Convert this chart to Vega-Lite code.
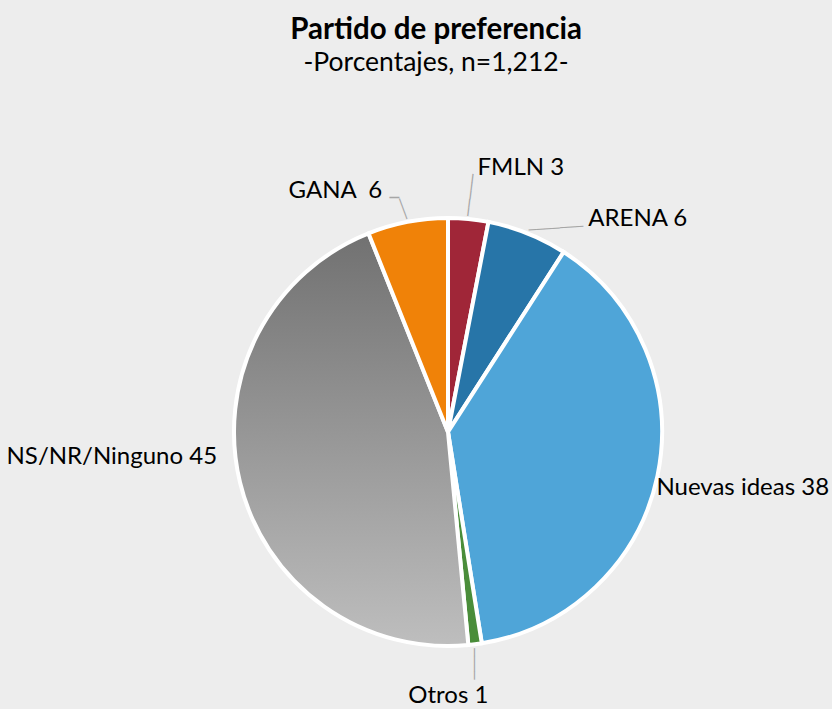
{
  "$schema": "https://vega.github.io/schema/vega-lite/v6.json",
  "width": 768,
  "height": 554,
  "autosize": "none",
  "padding": {"left": 64, "top": 155, "right": 0, "bottom": 0},
  "background": "#ededed",
  "config": {"view": {"stroke": null}},
  "title": {
    "text": "Partido de preferencia",
    "subtitle": "-Porcentajes, n=1,212-",
    "anchor": "middle",
    "dx": -12,
    "offset": 78,
    "font": "Lato",
    "fontSize": 29.5,
    "fontWeight": "bold",
    "color": "#000000",
    "subtitleFont": "Lato",
    "subtitleFontSize": 26.5,
    "subtitleColor": "#000000",
    "subtitlePadding": 4
  },
  "data": {
    "values": [
      {"partido": "FMLN", "pct": 3, "orden": 1, "etiqueta": "FMLN 3"},
      {"partido": "ARENA", "pct": 6, "orden": 2, "etiqueta": "ARENA 6"},
      {"partido": "Nuevas ideas", "pct": 38, "orden": 3, "etiqueta": "Nuevas ideas 38"},
      {"partido": "Otros", "pct": 1, "orden": 4, "etiqueta": "Otros 1"},
      {"partido": "NS/NR/Ninguno", "pct": 45, "orden": 5, "etiqueta": "NS/NR/Ninguno 45"},
      {"partido": "GANA", "pct": 6, "orden": 6, "etiqueta": "GANA\u00a0 6"}
    ]
  },
  "encoding": {
    "theta": {"field": "pct", "type": "quantitative", "stack": true},
    "order": {"field": "orden", "type": "quantitative"},
    "detail": {"field": "partido", "type": "nominal"}
  },
  "layer": [
    {
      "mark": {"type": "arc", "outerRadius": 214, "stroke": "#ffffff", "strokeWidth": 4},
      "encoding": {
        "fill": {
          "condition": {
            "test": "datum.partido === 'NS/NR/Ninguno'",
            "value": {"gradient": "linear", "x1": 0, "y1": 0, "x2": 0, "y2": 1,
              "stops": [{"offset": 0, "color": "#717171"}, {"offset": 1, "color": "#bebebe"}]}
          },
          "field": "partido",
          "type": "nominal",
          "scale": {
            "domain": ["FMLN", "ARENA", "Nuevas ideas", "Otros", "NS/NR/Ninguno", "GANA"],
            "range": ["#a02638", "#2775a8", "#4fa5d8", "#4a8d3a", "#999999", "#f08208"]
          },
          "legend": null
        }
      }
    },
    {
      "mark": {"type": "text", "radius": 217, "font": "DejaVu Sans Mono", "fontSize": 14, "fill": "#a6a6a6", "align": "left", "baseline": "middle", "angle": -83},
      "encoding": {"text": {"condition": {"test": "datum.partido === 'FMLN'", "value": "─────"}, "value": ""}}
    },
    {
      "mark": {"type": "text", "radius": 217, "font": "DejaVu Sans Mono", "fontSize": 13, "fill": "#a6a6a6", "align": "left", "baseline": "middle", "angle": -4},
      "encoding": {"text": {"condition": {"test": "datum.partido === 'ARENA'", "value": "───────"}, "value": ""}}
    },
    {
      "mark": {"type": "text", "radius": 218, "font": "DejaVu Sans Mono", "fontSize": 13, "fill": "#a6a6a6", "align": "left", "baseline": "middle", "angle": 90, "dy": 2},
      "encoding": {"text": {"condition": {"test": "datum.partido === 'Otros'", "value": "────"}, "value": ""}}
    },
    {
      "mark": {"type": "text", "radius": 217, "font": "DejaVu Sans Mono", "fontSize": 12, "fill": "#a6a6a6", "align": "left", "baseline": "middle", "angle": -110},
      "encoding": {"text": {"condition": {"test": "datum.partido === 'GANA'", "value": "───"}, "value": ""}}
    },
    {
      "mark": {"type": "text", "radius": 216, "font": "DejaVu Sans Mono", "fontSize": 16, "fill": "#a6a6a6", "align": "right", "baseline": "middle", "dx": -8, "dy": -22},
      "encoding": {"text": {"condition": {"test": "datum.partido === 'GANA'", "value": "─"}, "value": ""}}
    },
    {
      "mark": {"type": "text", "radius": 216, "font": "Lato", "fontSize": 24, "fill": "#000000", "align": "left", "baseline": "alphabetic", "dx": 9, "dy": -42},
      "encoding": {"text": {"condition": {"test": "datum.partido === 'FMLN'", "field": "etiqueta", "type": "nominal"}, "value": ""}}
    },
    {
      "mark": {"type": "text", "radius": 216, "font": "Lato", "fontSize": 24, "fill": "#000000", "align": "left", "baseline": "alphabetic", "dx": 60, "dy": -5},
      "encoding": {"text": {"condition": {"test": "datum.partido === 'ARENA'", "field": "etiqueta", "type": "nominal"}, "value": ""}}
    },
    {
      "mark": {"type": "text", "radius": 216, "font": "Lato", "fontSize": 24, "fill": "#000000", "align": "left", "baseline": "alphabetic", "dx": -3, "dy": 19},
      "encoding": {"text": {"condition": {"test": "datum.partido === 'Nuevas ideas'", "field": "etiqueta", "type": "nominal"}, "value": ""}}
    },
    {
      "mark": {"type": "text", "radius": 216, "font": "Lato", "fontSize": 24, "fill": "#000000", "align": "center", "baseline": "alphabetic", "dx": -27, "dy": 57},
      "encoding": {"text": {"condition": {"test": "datum.partido === 'Otros'", "field": "etiqueta", "type": "nominal"}, "value": ""}}
    },
    {
      "mark": {"type": "text", "radius": 216, "font": "Lato", "fontSize": 24, "fill": "#000000", "align": "right", "baseline": "alphabetic", "dx": -21, "dy": -19},
      "encoding": {"text": {"condition": {"test": "datum.partido === 'NS/NR/Ninguno'", "field": "etiqueta", "type": "nominal"}, "value": ""}}
    },
    {
      "mark": {"type": "text", "radius": 216, "font": "Lato", "fontSize": 24, "fill": "#000000", "align": "right", "baseline": "alphabetic", "dx": -25, "dy": -22},
      "encoding": {"text": {"condition": {"test": "datum.partido === 'GANA'", "field": "etiqueta", "type": "nominal"}, "value": ""}}
    }
  ]
}
